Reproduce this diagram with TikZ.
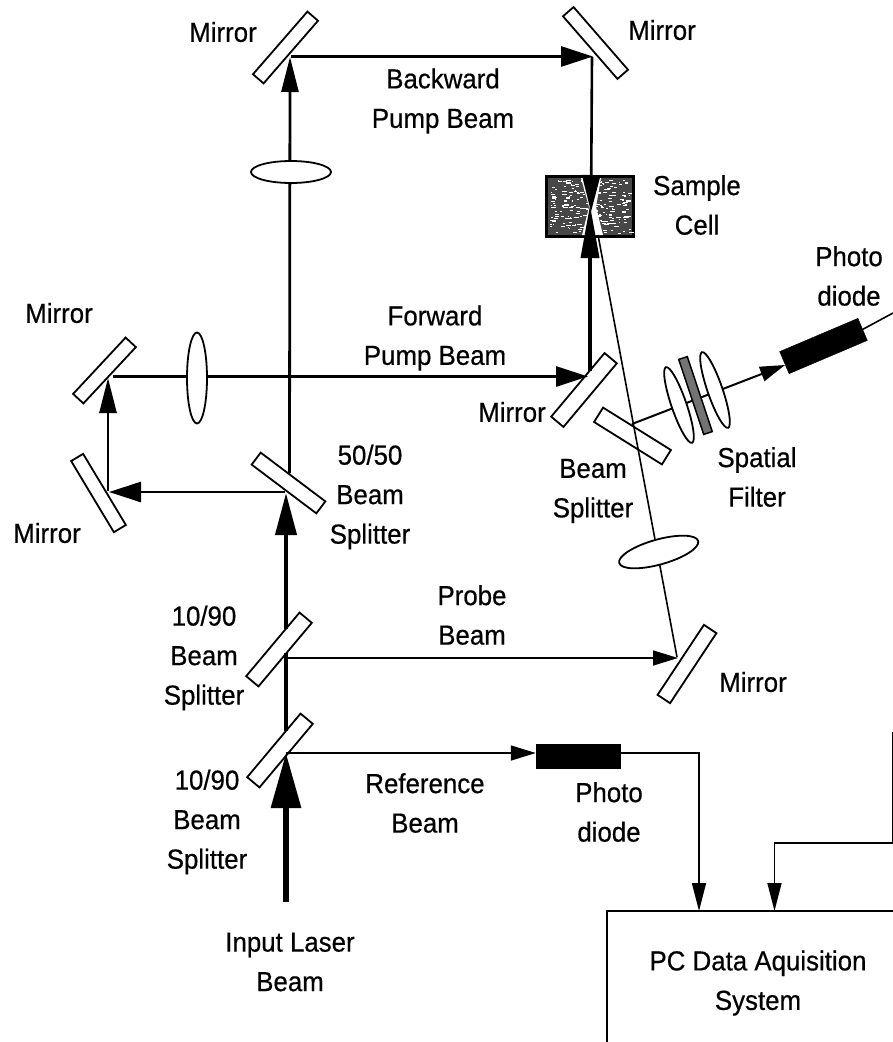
\documentclass[tikz,border=0pt]{standalone}
\usepackage{fontspec}
\setmainfont[RawFeature={embolden=0.5},FakeStretch=0.94]{Liberation Sans}
\usetikzlibrary{arrows.meta,shapes.geometric}
\tikzset{
  lbl/.style={font=\fontsize{27.5}{39.5}\selectfont,align=center,inner sep=0pt,text=black},
  optic/.style={draw=black,fill=white,line width=1.8pt,rectangle,inner sep=0pt,minimum width=83pt,minimum height=15pt},
  lensel/.style={draw=black,fill=white,line width=1.8pt,ellipse,inner sep=0pt},
  thinbeam/.style={line width=1.6pt},
  beam/.style={line width=2.8pt},
  heavybeam/.style={line width=4pt},
  inbeam/.style={line width=6pt},
  headS/.style={-{Triangle[length=25pt,width=15pt]}},
  headH/.style={-{Triangle[length=32pt,width=20pt]}},
  headV/.style={-{Triangle[length=35pt,width=17pt]}},
  headL/.style={-{Triangle[length=42pt,width=21pt]}},
  headCT/.style={-{Triangle[length=37pt,width=18pt]}},
  headCB/.style={-{Triangle[length=53pt,width=18pt]}},
  headXL/.style={-{Triangle[length=55pt,width=29pt]}},
  headDAQ/.style={-{Triangle[length=28pt,width=14pt]}},
  pd/.style={draw=black,fill=black,rectangle,inner sep=0pt}
}
\begin{document}
\begin{tikzpicture}[x=1pt,y=-1pt]
\useasboundingbox (0,0) rectangle (893,1042);
\clip (0,0) rectangle (893,1042);
\fill[white] (0,0) rectangle (893,1042);

% mirrors and splitters
\node[optic,minimum height=14pt,rotate=49] (mTL) at (285.5,47.5) {};
\node[optic,minimum height=14pt,rotate=-49] (mTR) at (595.5,43) {};
\node[optic,minimum height=14pt,minimum width=77pt,rotate=47] (mL1) at (104.5,370.5) {};
\node[optic,minimum height=14pt,rotate=-59] (mL2) at (98.5,493) {};
\node[optic,minimum width=81pt,rotate=-37] (bs50) at (288.5,483) {};
\node[optic,minimum height=16pt,rotate=50] (mFP) at (584,390) {};
\node[optic,minimum height=17pt,minimum width=80pt,rotate=-32] (bsC) at (632.5,436) {};
\node[optic,minimum height=16pt,rotate=50] (bsA) at (279,649.5) {};
\node[optic,minimum height=16pt,rotate=50] (bsB) at (280,750.5) {};
\node[optic,minimum width=84pt,rotate=56.5] (mP) at (687,664) {};

% sample cell
\node[draw=black,fill=black!72,line width=2.5pt,rectangle,inner sep=0pt,minimum width=87pt,minimum height=60pt] (cell) at (590,206.5) {};
\pgfmathsetseed{11}
\foreach \k in {1,...,230}{
  \pgfmathsetmacro{\px}{550+80*rnd}
  \pgfmathsetmacro{\py}{180+53*rnd}
  \pgfmathsetmacro{\pl}{1+4*rnd}
  \fill[white] (\px,\py) rectangle ++(\pl,1.1);
}
\fill[white] (581,178) -- (601,178) -- (596,207) -- (603,235) -- (582,235) -- (589,207) -- cycle;

% photodiodes
\node[pd,minimum width=85pt,minimum height=24pt,rotate=23] (pdT) at (823.5,346) {};
\node[pd,minimum width=84pt,minimum height=24pt] (pdB) at (578,756) {};

% data acquisition box
\node[draw=black,fill=white,line width=2pt,rectangle,minimum width=303pt,minimum height=144pt,lbl] (daq) at (758,983) {PC Data Aquisition\\System};

% beam junctions
\coordinate (jTLtip) at (290,57);
\coordinate (jTLh) at (291,56.5);
\coordinate (jTRh) at (593,56.5);
\coordinate (jTRv) at (592,57);
\coordinate (jCellT) at (591,212);
\coordinate (j50up) at (289.5,473);
\coordinate (j50L) at (285,492);
\coordinate (jL2) at (109,492);
\coordinate (jL2v) at (108,491);
\coordinate (jL1v) at (108,378);
\coordinate (jL1h) at (113,376.5);
\coordinate (jFP) at (588,376.5);
\coordinate (jFPv) at (590,371);
\coordinate (jCellB) at (590,205);
\coordinate (jAup) at (286,629);
\coordinate (jAlow) at (286,653);
\coordinate (jAout) at (286,658);
\coordinate (jBup) at (286,731);
\coordinate (j50low) at (286,493);
\coordinate (jBin) at (286,753);
\coordinate (jIn) at (286,902);
\coordinate (jPm) at (678,658);
\coordinate (jPmS) at (677,657);
\coordinate (jSlant) at (598,235);
\coordinate (jC) at (632,424);
\coordinate (jPdTip) at (785,365);
\coordinate (jOff) at (893,313);
\coordinate (jRef1) at (699,753);
\coordinate (jDaqA) at (699,911);
\coordinate (jDaqB) at (774.5,911);
\coordinate (jDaqC) at (774.5,843);
\coordinate (jRt) at (892.5,843);
\coordinate (jRtT) at (892.5,732);

% beams
\draw[thinbeam] (jPmS) -- (jSlant);
\draw[beam,headV] (j50up) -- (jTLtip);
\draw[beam,headH] (jTLh) -- (jTRh);
\draw[beam,line width=2.6pt,headCT] (jTRv) -- (jCellT);
\draw[beam,headH] (j50L) -- (jL2);
\draw[beam,headV] (jL2v) -- (jL1v);
\draw[beam,headH] (jL1h) -- (jFP);
\draw[heavybeam,line width=3.6pt,headCB] (jFPv) -- (jCellB);
\draw[heavybeam] (jBup) -- (jAlow);
\draw[heavybeam,headL] (jAup) -- (j50low);
\draw[inbeam,headXL] (jIn) -- (jBin);
\draw[thinbeam,headS] (jAout) -- (jPm);
\draw[thinbeam,headS] (jBin) -- (pdB.west |- jBin);
\draw[thinbeam,line width=2pt,headS] (jC) -- (jPdTip);
\draw[thinbeam] (pdT.east) -- (jOff);
\draw[thinbeam,headDAQ] (pdB.east |- jRef1) -- (jRef1) -- (jDaqA);
\draw[thinbeam,headDAQ] (jRtT) -- (jRt) -- (jDaqC) -- (jDaqB);

% lenses and filter
\node[lensel,minimum width=80pt,minimum height=22pt] (lensT) at (291,172) {};
\node[lensel,minimum width=20pt,minimum height=91pt] (lensL) at (197,378) {};
\node[lensel,minimum width=82pt,minimum height=25pt,rotate=15.6] (lensP) at (658.7,552) {};
\node[lensel,minimum width=80pt,minimum height=15pt,rotate=-71] (lensS1) at (679,405) {};
\node[lensel,minimum width=80pt,minimum height=15pt,rotate=-71] (lensS2) at (715,390) {};
\node[draw=black,fill=black!55,line width=1.5pt,rectangle,inner sep=0pt,minimum width=79pt,minimum height=9pt,rotate=-71.6] (filt) at (695.5,395.5) {};

% labels
\node[lbl] (t1) at (223,32) {Mirror};
\node[lbl] (t2) at (662,30) {Mirror};
\node[lbl] (t3) at (443,101) {Backward\\Pump Beam};
\node[lbl] (t4) at (697,205) {Sample\\Cell};
\node[lbl] (t5) at (849,276) {Photo\\diode};
\node[lbl] (t6) at (435,338) {Forward\\Pump Beam};
\node[lbl] (t7) at (59,313) {Mirror};
\node[lbl] (t8) at (47,533) {Mirror};
\node[lbl] (t9) at (512,412) {Mirror};
\node[lbl] (t10) at (370,497) {50/50\\Beam\\Splitter};
\node[lbl] (t11) at (593,491) {Beam\\Splitter};
\node[lbl] (t12) at (757,477) {Spatial\\Filter};
\node[lbl] (t13) at (472,615) {Probe\\Beam};
\node[lbl] (t14) at (753,682) {Mirror};
\node[lbl] (t15) at (204,658) {10/90\\Beam\\Splitter};
\node[lbl] (t16) at (207,822) {10/90\\Beam\\Splitter};
\node[lbl] (t17) at (425,803) {Reference\\Beam};
\node[lbl] (t18) at (609,812) {Photo\\diode};
\node[lbl] (t19) at (290,962) {Input Laser\\Beam};
\end{tikzpicture}
\end{document}
